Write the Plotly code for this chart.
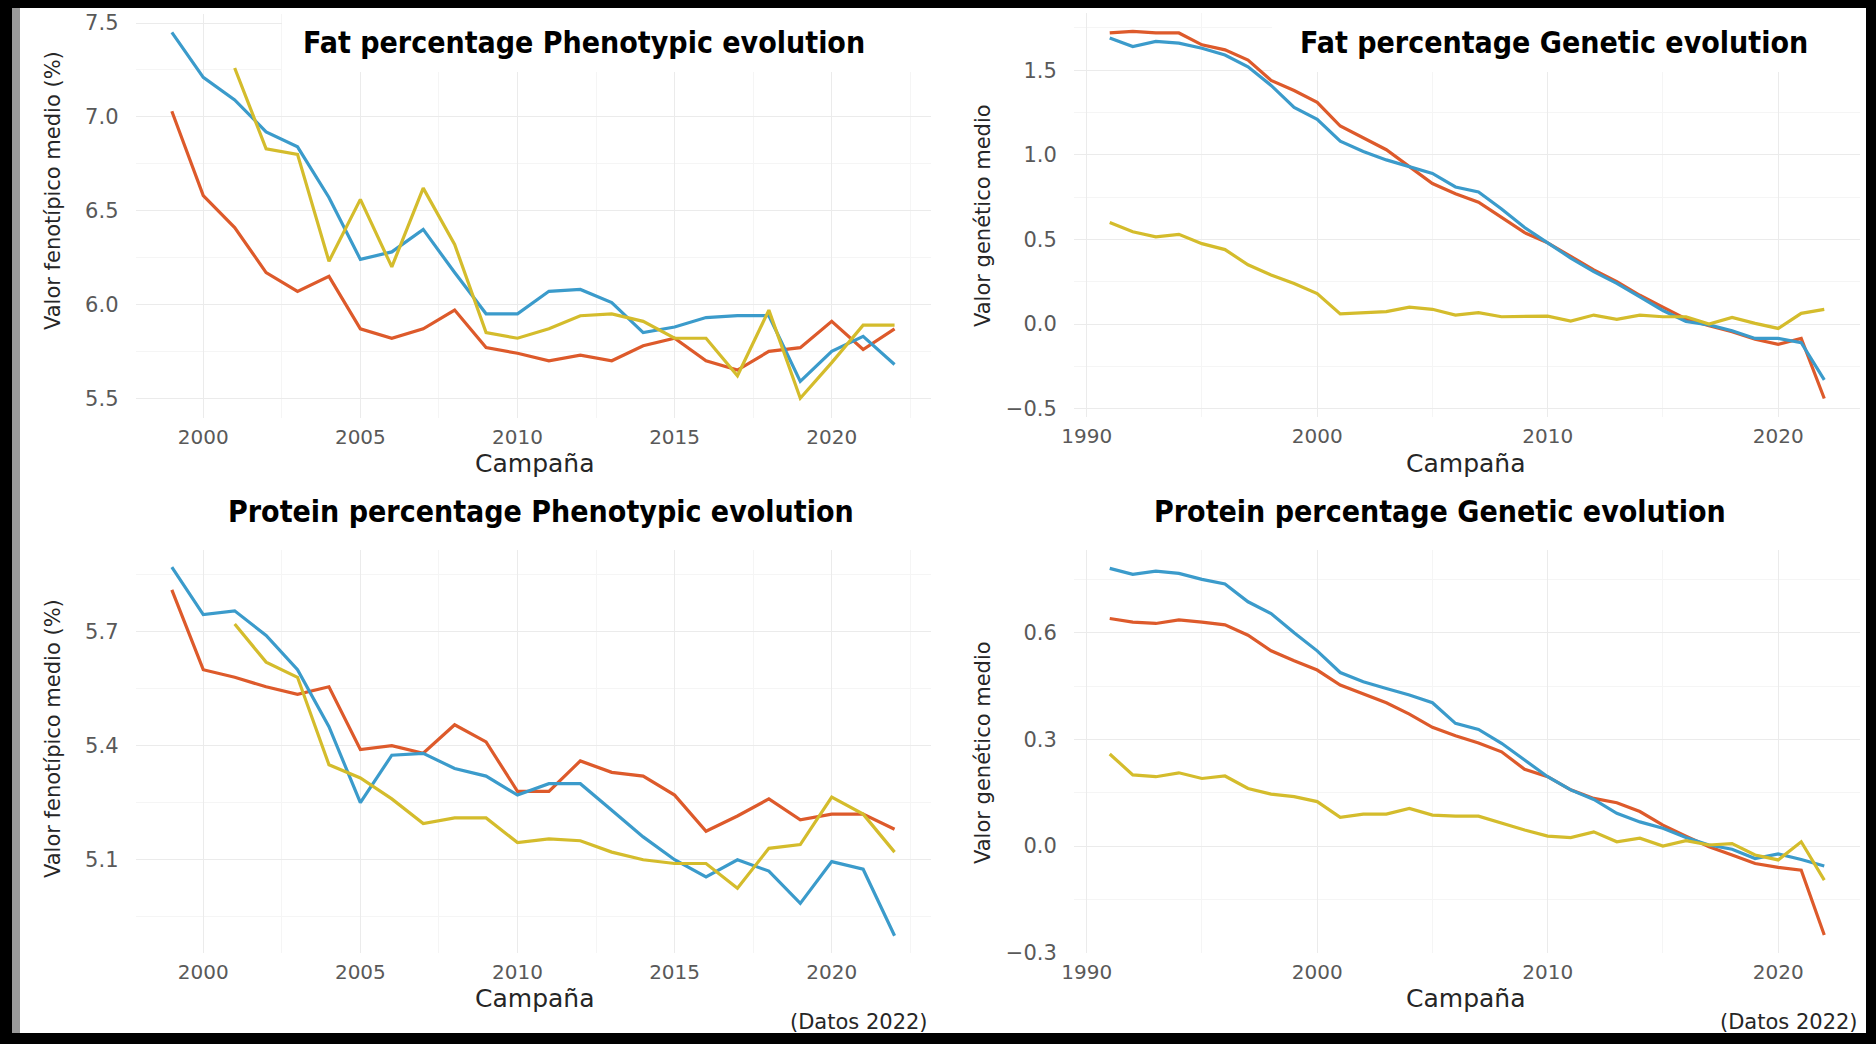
import plotly.graph_objects as go

W, H = 1876, 1044

RED = "#DD5A2B"
BLUE = "#3B9BCB"
YELLOW = "#D4BC2C"
GRID = "#EBEBEB"
GRID_MINOR = "#F5F5F5"
TICK_COLOR = "#595959"
TEXT_COLOR = "#262626"
FONT = "DejaVu Sans, Arial, sans-serif"
TITLE_FONT = "Liberation Sans Narrow, DejaVu Sans Condensed, Arial Narrow, sans-serif"

# ---- data ----
years_pheno = list(range(1999, 2023))
years_pheno_late = list(range(2001, 2023))
years_gen = list(range(1991, 2023))

fat_pheno_red = [7.03, 6.58, 6.41, 6.17, 6.07, 6.15, 5.87, 5.82, 5.87, 5.97, 5.77, 5.74,
                 5.70, 5.73, 5.70, 5.78, 5.82, 5.70, 5.65, 5.75, 5.77, 5.91, 5.76, 5.87]
fat_pheno_blue = [7.45, 7.21, 7.09, 6.92, 6.84, 6.57, 6.24, 6.28, 6.40, 6.17, 5.95, 5.95,
                  6.07, 6.08, 6.01, 5.85, 5.88, 5.93, 5.94, 5.94, 5.59, 5.75, 5.83, 5.68]
fat_pheno_yellow = [7.26, 6.83, 6.80, 6.23, 6.56, 6.20, 6.62, 6.32, 5.85, 5.82,
                    5.87, 5.94, 5.95, 5.91, 5.82, 5.82, 5.62, 5.97, 5.50, 5.69, 5.89, 5.89]

fat_gen_red = [1.72, 1.73, 1.72, 1.72, 1.65, 1.62, 1.56, 1.44, 1.38, 1.31,
               1.17, 1.10, 1.03, 0.93, 0.83, 0.77, 0.72, 0.63, 0.54, 0.48,
               0.40, 0.32, 0.25, 0.17, 0.10, 0.03, -0.01, -0.045, -0.09, -0.12,
               -0.085, -0.44]
fat_gen_blue = [1.69, 1.64, 1.67, 1.66, 1.63, 1.59, 1.52, 1.41, 1.28, 1.21,
                1.08, 1.02, 0.97, 0.93, 0.89, 0.81, 0.78, 0.68, 0.57, 0.48,
                0.39, 0.31, 0.24, 0.16, 0.08, 0.015, -0.005, -0.04, -0.085, -0.085,
                -0.11, -0.33]
fat_gen_yellow = [0.60, 0.545, 0.515, 0.53, 0.475, 0.44, 0.35, 0.29, 0.24, 0.18,
                  0.06, 0.065, 0.073, 0.10, 0.087, 0.053, 0.067, 0.043, 0.043, 0.047,
                  0.018, 0.053, 0.028, 0.053, 0.043, 0.043, 0.0, 0.039, 0.004, -0.026,
                  0.063, 0.087]

prot_pheno_red = [5.81, 5.60, 5.58, 5.555, 5.535, 5.555, 5.39, 5.40, 5.38, 5.455, 5.41, 5.28,
                  5.28, 5.36, 5.33, 5.32, 5.27, 5.175, 5.215, 5.26, 5.205, 5.22, 5.22, 5.18]
prot_pheno_blue = [5.87, 5.745, 5.755, 5.69, 5.60, 5.45, 5.25, 5.375, 5.38, 5.34, 5.32, 5.27,
                   5.30, 5.30, 5.23, 5.16, 5.10, 5.055, 5.10, 5.07, 4.985, 5.095, 5.075, 4.90]
prot_pheno_yellow = [5.72, 5.62, 5.58, 5.35, 5.315, 5.26, 5.195, 5.21, 5.21, 5.145,
                     5.155, 5.15, 5.12, 5.10, 5.09, 5.09, 5.025, 5.13, 5.14, 5.265, 5.22, 5.12]

prot_gen_red = [0.64, 0.63, 0.626, 0.636, 0.63, 0.622, 0.593, 0.549, 0.521, 0.495,
                0.453, 0.428, 0.403, 0.371, 0.334, 0.31, 0.29, 0.265, 0.216, 0.195,
                0.158, 0.134, 0.122, 0.097, 0.059, 0.028, -0.002, -0.025, -0.049, -0.06,
                -0.068, -0.25]
prot_gen_blue = [0.781, 0.764, 0.773, 0.767, 0.75, 0.737, 0.687, 0.654, 0.60, 0.549,
                 0.488, 0.462, 0.443, 0.425, 0.403, 0.345, 0.328, 0.289, 0.242, 0.195,
                 0.158, 0.131, 0.092, 0.068, 0.05, 0.024, 0.003, -0.009, -0.035, -0.022,
                 -0.038, -0.056]
prot_gen_yellow = [0.259, 0.20, 0.195, 0.206, 0.19, 0.197, 0.162, 0.146, 0.139, 0.125,
                   0.081, 0.09, 0.09, 0.106, 0.087, 0.084, 0.084, 0.064, 0.045, 0.028,
                   0.024, 0.04, 0.012, 0.022, 0.0, 0.015, 0.003, 0.007, -0.025, -0.039,
                   0.012, -0.096]

titles = ["Fat percentage Phenotypic evolution", "Fat percentage Genetic evolution",
          "Protein percentage Phenotypic evolution", "Protein percentage Genetic evolution"]
y_titles = ["Valor fenotípico medio (%)", "Valor genético medio",
            "Valor fenotípico medio (%)", "Valor genético medio"]
x_title = "Campaña"
source_note = "(Datos 2022)"


def fx(x):
    return x / W


def fy(y):
    return 1 - y / H


# panel boxes in pixels: (left, right, top, bottom)
boxes = [(135.7, 930.7, 14, 417.6), (1074, 1860, 13, 416.6),
         (135.7, 930.7, 550, 953.2), (1074, 1860, 550, 953.3)]
x_ranges = [[1997.85, 2023.15], [1989.45, 2023.55], [1997.85, 2023.15], [1989.45, 2023.55]]
y_ranges = [[5.397, 7.548], [-0.547, 1.838], [4.854, 5.915], [-0.3016, 0.8326]]
x_ticks = [(5, 2.5, 2000), (10, 5, 1990), (5, 2.5, 2000), (10, 5, 1990)]
y_ticks = [(0.5, 0.25, 5.5), (0.5, 0.25, 0), (0.3, 0.15, 5.1), (0.3, 0.15, 0)]

series = [
    [(years_pheno, fat_pheno_red, RED), (years_pheno, fat_pheno_blue, BLUE),
     (years_pheno_late, fat_pheno_yellow, YELLOW)],
    [(years_gen, fat_gen_red, RED), (years_gen, fat_gen_blue, BLUE),
     (years_gen, fat_gen_yellow, YELLOW)],
    [(years_pheno, prot_pheno_red, RED), (years_pheno, prot_pheno_blue, BLUE),
     (years_pheno_late, prot_pheno_yellow, YELLOW)],
    [(years_gen, prot_gen_red, RED), (years_gen, prot_gen_blue, BLUE),
     (years_gen, prot_gen_yellow, YELLOW)],
]

fig = go.Figure()
layout = {}
for i in range(4):
    sfx = "" if i == 0 else str(i + 1)
    for xs, ys, col in series[i]:
        fig.add_trace(go.Scatter(x=xs, y=ys, mode="lines", xaxis="x" + sfx, yaxis="y" + sfx,
                                 line=dict(color=col, width=3.2), showlegend=False))
    l, r, t, b = boxes[i]
    xd, xm, x0 = x_ticks[i]
    yd, ym, y0 = y_ticks[i]
    layout["xaxis" + sfx] = dict(
        domain=[fx(l), fx(r)], range=x_ranges[i], anchor="y" + sfx, automargin=False,
        tick0=x0, dtick=xd, showgrid=True, gridcolor=GRID, gridwidth=1.3,
        minor=dict(tick0=x0, dtick=xm, showgrid=True, gridcolor=GRID_MINOR, gridwidth=1),
        zeroline=False, showline=False, ticks="outside", ticklen=1, tickcolor="rgba(0,0,0,0)",
        tickfont=dict(family=FONT, size=20, color=TICK_COLOR),
    )
    layout["yaxis" + sfx] = dict(
        domain=[fy(b), fy(t)], range=y_ranges[i], anchor="x" + sfx, automargin=False,
        tick0=y0, dtick=yd, tickformat=".1f", showgrid=True, gridcolor=GRID, gridwidth=1.3,
        minor=dict(tick0=y0, dtick=ym, showgrid=True, gridcolor=GRID_MINOR, gridwidth=1),
        zeroline=False, showline=False, ticks="outside", ticklen=12, tickcolor="rgba(0,0,0,0)",
        tickfont=dict(family=FONT, size=21, color=TICK_COLOR),
    )

annotations = []
title_pos = [(584, 42), (1554, 42), (541, 511), (1440, 511)]
ytitle_pos = [(53, 191), (983, 215), (53, 739), (983, 752)]
xtitle_pos = [(534, 463), (1465, 463), (534, 998), (1465, 998)]
for i in range(4):
    annotations.append(dict(text=f"<b>{titles[i]}</b>", x=fx(title_pos[i][0]), y=fy(title_pos[i][1]),
                            xref="paper", yref="paper", showarrow=False, xanchor="center", yanchor="middle",
                            font=dict(family=TITLE_FONT, size=30, color="#000000")))
    annotations.append(dict(text=y_titles[i], x=fx(ytitle_pos[i][0]), y=fy(ytitle_pos[i][1]),
                            xref="paper", yref="paper", showarrow=False, textangle=-90,
                            xanchor="center", yanchor="middle",
                            font=dict(family=FONT, size=21, color=TEXT_COLOR)))
    annotations.append(dict(text=x_title, x=fx(xtitle_pos[i][0]), y=fy(xtitle_pos[i][1]),
                            xref="paper", yref="paper", showarrow=False,
                            xanchor="center", yanchor="middle",
                            font=dict(family=FONT, size=25, color=TEXT_COLOR)))
for xr in (930, 1860):
    annotations.append(dict(text=source_note, x=fx(xr), y=fy(1022), xref="paper", yref="paper",
                            showarrow=False, xanchor="right", yanchor="middle",
                            font=dict(family=FONT, size=21, color=TEXT_COLOR)))


def rect(x0, x1, y0, y1, color):
    return dict(type="rect", xref="paper", yref="paper", x0=fx(x0), x1=fx(x1), y0=fy(y1), y1=fy(y0),
                fillcolor=color, line=dict(width=0), layer="above")


shapes = [
    rect(282, 936, 6, 72, "white"),
    rect(1272, 1866, 6, 72, "white"),
    rect(0, W, 0, 8, "black"),
    rect(0, W, 1033, H, "black"),
    rect(0, 12, 0, H, "black"),
    rect(12, 20, 8, 1033, "#9A9A9A"),
    rect(1866, W, 0, H, "black"),
]

fig.update_layout(
    **layout,
    width=W, height=H, autosize=False,
    margin=dict(l=0, r=0, t=0, b=0, pad=0, autoexpand=False),
    paper_bgcolor="white", plot_bgcolor="white",
    showlegend=False,
    annotations=annotations,
    shapes=shapes,
)

# drop the default page margin so the figure sits at the window's top-left corner
no_margin = ("document.documentElement.style.margin='0';document.body.style.margin='0';"
             "document.documentElement.style.overflow='hidden';document.body.style.overflow='hidden';")

fig.write_html("out.html", post_script=no_margin, config={"displayModeBar": False})
